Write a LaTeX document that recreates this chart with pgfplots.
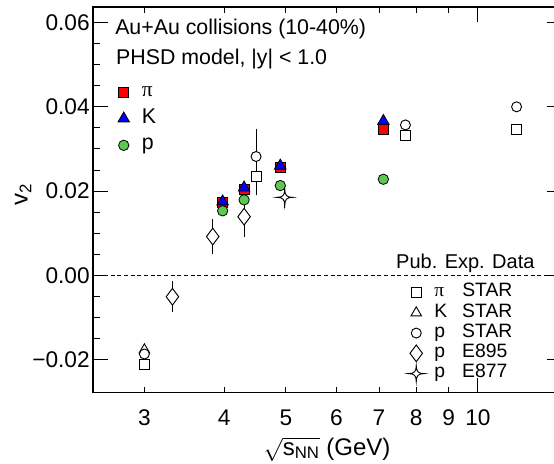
\documentclass[border=0pt]{standalone}
\usepackage{fontspec}
\setmainfont{Liberation Sans}
\newfontfamily\seriffont{Liberation Serif}
\usepackage{pgfplots}
\pgfplotsset{compat=1.18}
\definecolor{pgreen}{RGB}{92,200,80}

\pgfdeclareplotmark{star4}{%
 \pgfpathmoveto{\pgfqpoint{0pt}{\pgfplotmarksize}}%
 \pgfpathcurveto{\pgfqpoint{0pt}{0.25\pgfplotmarksize}}{\pgfqpoint{0.25\pgfplotmarksize}{0pt}}{\pgfqpoint{\pgfplotmarksize}{0pt}}%
 \pgfpathcurveto{\pgfqpoint{0.25\pgfplotmarksize}{0pt}}{\pgfqpoint{0pt}{-0.25\pgfplotmarksize}}{\pgfqpoint{0pt}{-\pgfplotmarksize}}%
 \pgfpathcurveto{\pgfqpoint{0pt}{-0.25\pgfplotmarksize}}{\pgfqpoint{-0.25\pgfplotmarksize}{0pt}}{\pgfqpoint{-\pgfplotmarksize}{0pt}}%
 \pgfpathcurveto{\pgfqpoint{-0.25\pgfplotmarksize}{0pt}}{\pgfqpoint{0pt}{0.25\pgfplotmarksize}}{\pgfqpoint{0pt}{\pgfplotmarksize}}%
 \pgfpathclose
 \pgfusepathqfillstroke
}

\pgfplotsset{
  om/.style={only marks,
    legend image code/.code={\draw[mark repeat=2,mark phase=2,##1] plot coordinates {(0pt,0pt) (8pt,0pt) (16pt,0pt)};}},
}

\begin{document}
\begin{tikzpicture}
\begin{axis}[
  at={(0,0)}, anchor=south west,
  scale only axis, width=351.75pt, height=289.3pt,
  xmode=log, xmin=2.492, xmax=13.55,
  ymin=-0.02788, ymax=0.06372,
  axis line style={line width=0.9pt},
  tick style={black, line width=0.7pt},
  major tick length=11pt, minor tick length=5pt,
  xtick={10}, xticklabels={10},
  extra x ticks={3,4,5,6,7,8,9},
  extra x tick labels={3,4,5,6,7,8,9},
  extra x tick style={major tick length=4.5pt},
  minor x tick num=0,
  ytick={-0.02,0,0.02,0.04,0.06},
  yticklabels={−0.02,0.00,0.02,0.04,0.06},
  minor y tick num=3,
  scaled y ticks=false,
  /pgf/number format/assume math mode=true,
  xticklabel style={font=\fontsize{17}{19}\selectfont, inner sep=1pt, yshift=-11.67pt},
  yticklabel style={font=\fontsize{17}{19}\selectfont, inner sep=1pt, xshift=-1.27pt},
  ylabel={v\textsubscript{2}},
  ylabel style={at={(axis description cs:-0.149,0.5126)}, anchor=center, inner sep=0pt, font=\fontsize{18}{20}\selectfont},
  xlabel={$\sqrt{\mbox{s\textsubscript{NN}}}$ (GeV)},
  xlabel style={at={(axis description cs:0.499,-0.1467)}, anchor=center, inner sep=0pt, font=\fontsize{18}{20}\selectfont},
  legend style={draw=none, fill=none, inner sep=0pt, column sep=7.5pt, row sep=1.7pt,
    at={(axis description cs:0.6716,0.2836)}, anchor=north west,
    font=\fontsize{14.5}{16}\selectfont,
    nodes={inner sep=0pt, text height=10pt, text depth=3.5pt}},
  legend cell align=left,
]
\addplot[black, dash pattern=on 3pt off 2pt, line width=0.6pt, forget plot] coordinates {(2.3,0) (14,0)};

\addplot[om, mark=square*, mark size=3.75pt, mark options={fill=white, draw=black, line width=0.7pt},
  error bars/.cd, y dir=both, y explicit, error bar style={black, line width=0.6pt}, error mark options={black, mark size=2pt, line width=0.6pt}]
 table[x=x, y=y, y error=e] {
x y e
3.0 -0.0211 0
4.49 0.0234 0.0038
7.7 0.0333 0
11.5 0.0346 0
};
\addlegendentry{\makebox[21pt][l]{\seriffont π}STAR}
\addplot[om, mark=triangle*, mark size=4.5pt, mark options={fill=white, draw=black, line width=0.7pt}]
 table[x=x, y=y] {
x y
3.0 -0.0177
};
\addlegendentry{\makebox[21pt][l]{K}STAR}
\addplot[om, mark=*, mark size=3.75pt, mark options={fill=white, draw=black, line width=0.7pt},
  error bars/.cd, y dir=both, y explicit, error bar style={black, line width=0.6pt}, error mark options={black, mark size=2pt, line width=0.6pt}]
 table[x=x, y=y, y error=e] {
x y e
3.0 -0.0187 0
4.49 0.0282 0.006
7.7 0.0357 0
11.5 0.0400 0
};
\addlegendentry{\makebox[21pt][l]{p}STAR}
\addplot[om, mark=diamond*, mark size=6.25pt, mark options={fill=white, draw=black, line width=0.7pt},
  error bars/.cd, y dir=both, y explicit, error bar style={black, line width=0.6pt}, error mark options={black, mark size=2pt, line width=0.6pt}]
 table[x=x, y=y, y error=e] {
x y e
3.32 -0.0051 0.003
3.84 0.0092 0.0035
4.3 0.0139 0.0042
};
\addlegendentry{\makebox[21pt][l]{p}E895}
\addplot[om, mark=star4, mark size=6pt, mark options={fill=white, draw=black, line width=0.7pt},
  error bars/.cd, y dir=both, y explicit, error bar style={black, line width=0.6pt}, error mark options={black, mark size=2pt, line width=0.6pt}]
 table[x=x, y=y, y error=e] {
x y e
4.98 0.0185 0.002
};
\addlegendentry{\makebox[21pt][l]{p}E877}

\node[anchor=base west, inner sep=0pt, font=\fontsize{16}{18}\selectfont] at (axis description cs:0.0469,0.9274) {Au+Au collisions (10-40\%)};
\node[anchor=base west, inner sep=0pt, font=\fontsize{16}{18}\selectfont] at (axis description cs:0.049,0.8496) {PHSD model, |y| < 1.0};
\node[anchor=base west, inner sep=0pt, font=\fontsize{15}{17}\selectfont] at (axis description cs:0.646,0.3225) {Pub. Exp. Data};
\end{axis}

\begin{axis}[
  at={(0,0)}, anchor=south west,
  scale only axis, width=351.75pt, height=289.3pt,
  xmode=log, xmin=2.492, xmax=13.55,
  ymin=-0.02788, ymax=0.06372,
  hide axis,
  legend style={draw=none, fill=none, inner sep=0pt, column sep=9.3pt, row sep=5pt,
    at={(axis description cs:0.0527,0.8061)}, anchor=north west,
    font=\fontsize{16}{18}\selectfont,
    nodes={inner sep=0pt, text height=11pt, text depth=4pt}},
  legend cell align=left,
]
\addplot[om, mark=square*, mark size=3.75pt, mark options={fill=red, draw=black, line width=0.6pt}]
 coordinates {(3.98,0.0172) (4.3,0.0204) (4.9,0.0256) (7.11,0.0346)};
\addlegendentry{\seriffont π}
\addplot[om, mark=triangle*, mark size=5pt, mark options={fill=blue, draw=black, line width=0.6pt}]
 coordinates {(3.98,0.0175) (4.3,0.0208) (4.9,0.0260) (7.11,0.0366)};
\addlegendentry{K}
\addplot[om, mark=*, mark size=3.9pt, mark options={fill=pgreen, draw=black, line width=0.6pt}]
 coordinates {(3.98,0.0153) (4.3,0.0179) (4.9,0.0213) (7.11,0.0228)};
\addlegendentry{p}
\end{axis}
\pgfresetboundingbox
\path (-69.75pt,-53.5pt) rectangle (345.75pt,294.5pt);
\end{tikzpicture}
\end{document}
